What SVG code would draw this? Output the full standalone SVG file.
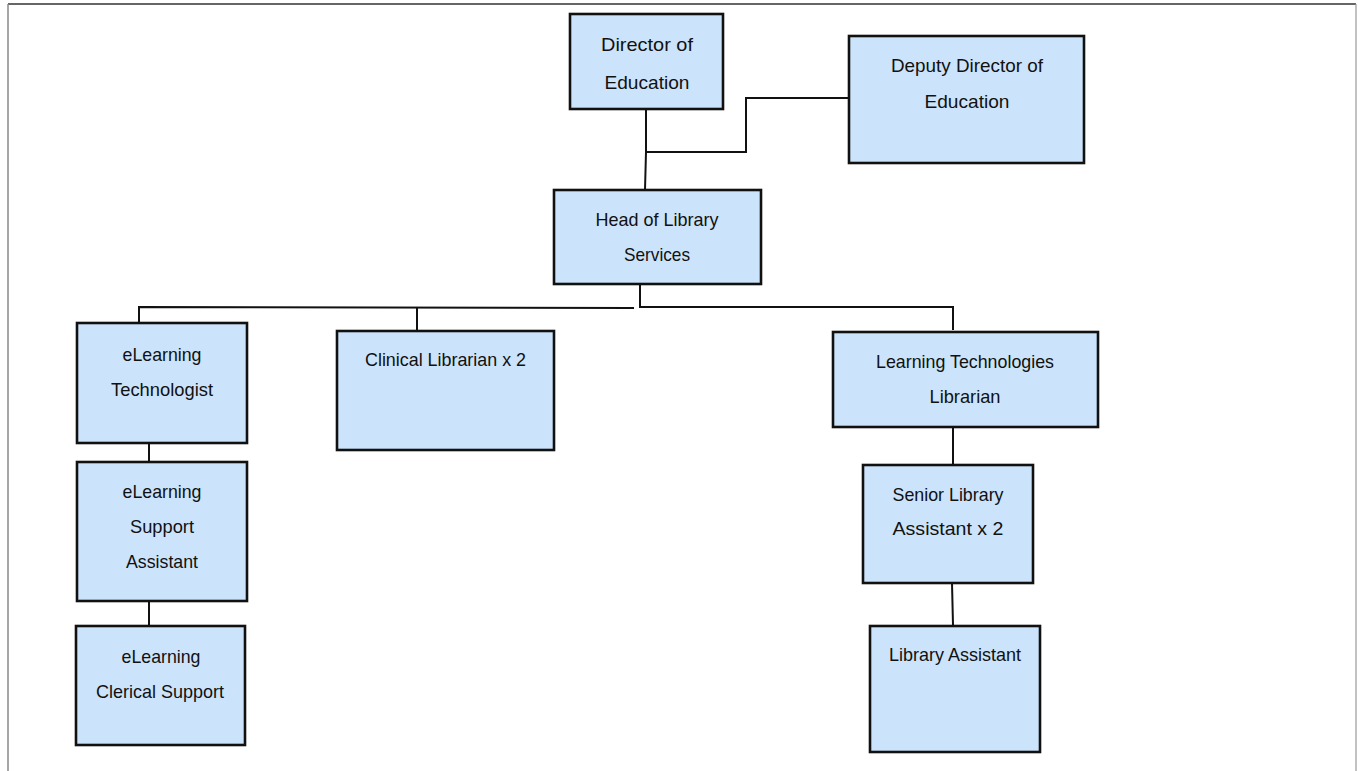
<svg xmlns="http://www.w3.org/2000/svg" width="1358" height="771" viewBox="0 0 1358 771">
<style>
.box{fill:#cce4fb;stroke:#111;stroke-width:2.6}
.t{font-family:"Liberation Sans",Arial,sans-serif;font-size:19px;fill:#111;text-anchor:middle}
.c{fill:none;stroke:#111;stroke-width:2}
</style>
<rect width="1358" height="771" fill="#fff"/>
<g id="frame">
<line x1="8" y1="4" x2="1356" y2="4" stroke="#333" stroke-width="1.5"/>
<line x1="8" y1="4" x2="8" y2="771" stroke="#888" stroke-width="1.5"/>
<line x1="1356" y1="4" x2="1356" y2="771" stroke="#999" stroke-width="1.2"/>
</g>
<g id="connectors">
<polyline class="c" points="646,109 646,152 645,190"/>
<polyline class="c" points="646,152 746,152 746,98 848,98"/>
<polyline class="c" points="640,284 640,307 953,307 953,330"/>
<polyline class="c" points="139,328 139,307 634,308"/>
<line class="c" x1="417" y1="307" x2="417" y2="331"/>
<line class="c" x1="149" y1="443" x2="149" y2="463"/>
<line class="c" x1="149" y1="601" x2="149" y2="626"/>
<line class="c" x1="953" y1="427" x2="953" y2="465"/>
<line class="c" x1="952" y1="583" x2="953" y2="625"/>
</g>
<g id="director">
<rect class="box" x="570" y="14" width="153" height="95"/>
<text class="t" x="647" y="51" textLength="92" lengthAdjust="spacingAndGlyphs">Director of</text>
<text class="t" x="647" y="89" textLength="85" lengthAdjust="spacingAndGlyphs">Education</text>
</g>
<g id="deputy">
<rect class="box" x="849" y="36" width="235" height="127"/>
<text class="t" x="967" y="72" textLength="152" lengthAdjust="spacingAndGlyphs">Deputy Director of</text>
<text class="t" x="967" y="108" textLength="85" lengthAdjust="spacingAndGlyphs">Education</text>
</g>
<g id="head">
<rect class="box" x="554" y="190" width="207" height="94"/>
<text class="t" x="657" y="226" textLength="123" lengthAdjust="spacingAndGlyphs">Head of Library</text>
<text class="t" x="657" y="261" textLength="66" lengthAdjust="spacingAndGlyphs">Services</text>
</g>
<g id="elearning-tech">
<rect class="box" x="77" y="323" width="170" height="120"/>
<text class="t" x="162" y="361" textLength="79" lengthAdjust="spacingAndGlyphs">eLearning</text>
<text class="t" x="162" y="396" textLength="102" lengthAdjust="spacingAndGlyphs">Technologist</text>
</g>
<g id="elearning-support">
<rect class="box" x="77" y="462" width="170" height="139"/>
<text class="t" x="162" y="498" textLength="79" lengthAdjust="spacingAndGlyphs">eLearning</text>
<text class="t" x="162" y="533" textLength="64" lengthAdjust="spacingAndGlyphs">Support</text>
<text class="t" x="162" y="568" textLength="72" lengthAdjust="spacingAndGlyphs">Assistant</text>
</g>
<g id="elearning-clerical">
<rect class="box" x="76" y="626" width="169" height="119"/>
<text class="t" x="161" y="663" textLength="79" lengthAdjust="spacingAndGlyphs">eLearning</text>
<text class="t" x="160" y="698" textLength="128" lengthAdjust="spacingAndGlyphs">Clerical Support</text>
</g>
<g id="clinical">
<rect class="box" x="337" y="331" width="217" height="119"/>
<text class="t" x="445.5" y="366" textLength="161" lengthAdjust="spacingAndGlyphs">Clinical Librarian x 2</text>
</g>
<g id="ltl">
<rect class="box" x="833" y="332" width="265" height="95"/>
<text class="t" x="965" y="368" textLength="178" lengthAdjust="spacingAndGlyphs">Learning Technologies</text>
<text class="t" x="965" y="403" textLength="71" lengthAdjust="spacingAndGlyphs">Librarian</text>
</g>
<g id="senior">
<rect class="box" x="863" y="465" width="170" height="118"/>
<text class="t" x="948" y="501" textLength="111" lengthAdjust="spacingAndGlyphs">Senior Library</text>
<text class="t" x="948" y="535" textLength="111" lengthAdjust="spacingAndGlyphs">Assistant x 2</text>
</g>
<g id="library-assistant">
<rect class="box" x="870" y="626" width="170" height="126"/>
<text class="t" x="955" y="661" textLength="132" lengthAdjust="spacingAndGlyphs">Library Assistant</text>
</g>
</svg>
